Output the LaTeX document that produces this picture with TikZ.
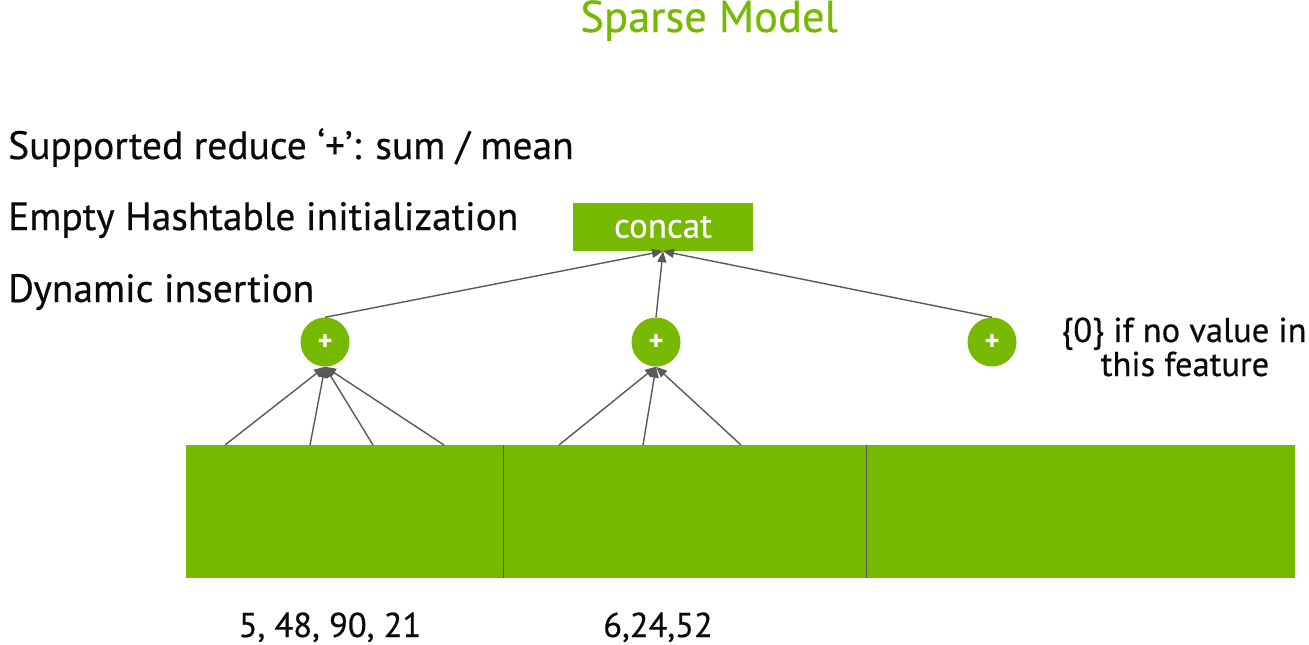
\documentclass[tikz,border=0pt]{standalone}
\usepackage{fontspec}
\setmainfont{PT Sans}[FakeBold=0.5]
\newfontfamily\titlefont{PT Sans}[FakeBold=0.3]
\usetikzlibrary{arrows.meta}
\definecolor{nvgreen}{HTML}{76B900}
\definecolor{arrowgray}{HTML}{595959}
\definecolor{txt}{HTML}{0A0A0A}
\begin{document}
\begin{tikzpicture}[x=1pt,y=-1pt,
  lbl/.style={inner sep=0pt, anchor=base west, text=txt, font=\fontsize{39.5}{44}\selectfont},
  ctr/.style={inner sep=0pt, anchor=base, text=txt, font=\fontsize{34.5}{38}\selectfont},
  sumnode/.style={circle, fill=nvgreen, minimum size=49pt, inner sep=0pt, text=white, font=\fontsize{28}{28}\selectfont\bfseries},
  seg/.style={fill=nvgreen, inner sep=0pt, minimum height=133pt, anchor=north west},
  conn/.style={draw=arrowgray, line width=1.4pt, -{Triangle[length=11pt,width=9pt]}},
  divider/.style={draw=arrowgray, line width=1.2pt}
]
\useasboundingbox (0,0) rectangle (1309,645);
\fill[white] (0,0) rectangle (1309,645);

% title
\node[inner sep=0pt, anchor=base, text=nvgreen, font=\titlefont\fontsize{44.6}{48}\selectfont] (title) at (709,32) {Sparse Model};

% left notes
\node[lbl] (n1) at (8,159) {Supported reduce ‘+’: sum / mean};
\node[lbl] (n2) at (8,230) {Empty Hashtable initialization};
\node[lbl] (n3) at (8,302) {Dynamic insertion};

% concat box
\node[fill=nvgreen, minimum width=180pt, minimum height=48pt, inner sep=0pt, text=white, font=\fontsize{35}{36}\selectfont] (concat) at (663,227) {concat};

% sum nodes
\node[sumnode] (p1) at (325,342) {+};
\node[sumnode] (p2) at (656,342) {+};
\node[sumnode] (p3) at (992,342) {+};

% bar segments
\node[seg, minimum width=317pt] (s1) at (186,445) {};
\node[seg, minimum width=363pt] (s2) at (503,445) {};
\node[seg, minimum width=429pt] (s3) at (866,445) {};
\draw[divider] (s1.north east) -- (s1.south east);
\draw[divider] (s2.north east) -- (s2.south east);

% arrow sources on the bar
\coordinate (a1) at (225,445);
\coordinate (a2) at (310,445);
\coordinate (a3) at (373,445);
\coordinate (a4) at (444,445);
\coordinate (b1) at (559,445);
\coordinate (b2) at (643,445);
\coordinate (b3) at (741,445);

\draw[conn] (a1) -- (p1.south);
\draw[conn] (a2) -- (p1.south);
\draw[conn] (a3) -- (p1.south);
\draw[conn] (a4) -- (p1.south);
\draw[conn] (b1) -- (p2.south);
\draw[conn] (b2) -- (p2.south);
\draw[conn] (b3) -- (p2.south);

\draw[conn] (p1.north) -- (concat.south);
\draw[conn] (p2.north) -- (concat.south);
\draw[conn] (p3.north) -- (concat.south);

% right note
\node[ctr] (note1) at (1184,342) {\{0\} if no value in};
\node[ctr] (note2) at (1185,376) {this feature};

% bottom labels
\node[ctr] (l1) at (330,637) {5, 48, 90, 21};
\node[ctr] (l2) at (658,637) {6,24,52};
\end{tikzpicture}
\end{document}
